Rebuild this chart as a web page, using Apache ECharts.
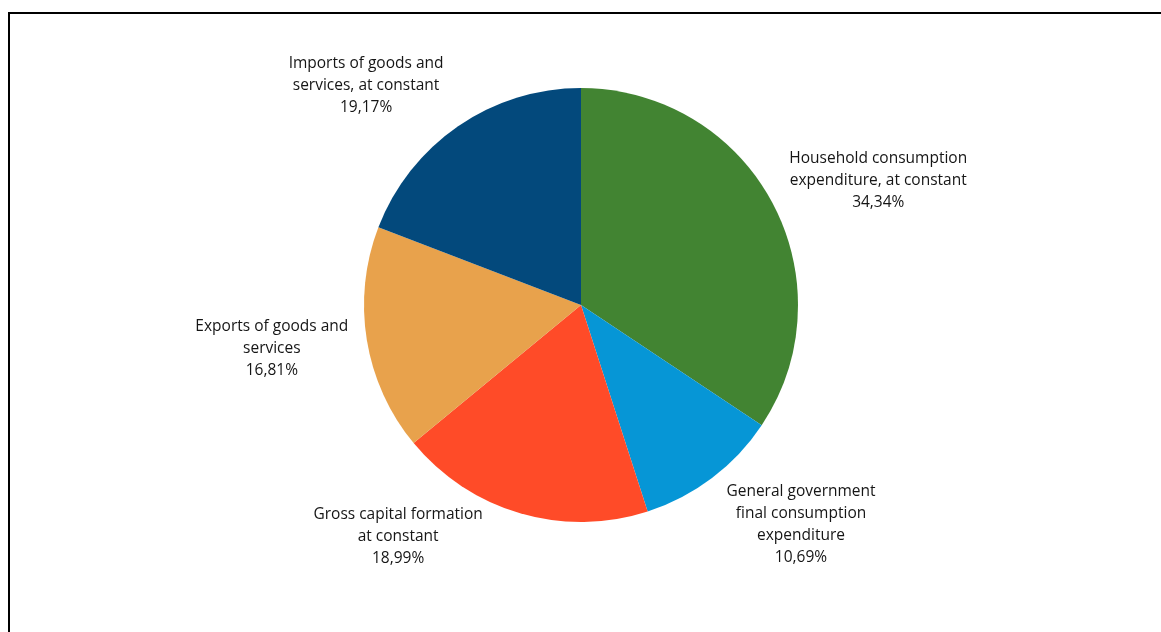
<!DOCTYPE html>
<html>
<head>
<meta charset="utf-8">
<script src="https://cdn.jsdelivr.net/npm/echarts@6/dist/echarts.min.js"></script>
<style>
  html, body { margin: 0; padding: 0; background: #ffffff; }
  #chart { width: 1161px; height: 632px; }
</style>
</head>
<body>
<div id="chart"></div>
<script>
// GDP components, share of total (%)
const categories = [
  'Household consumption\nexpenditure, at constant',
  'General government\nfinal consumption\nexpenditure',
  'Gross capital formation\nat constant',
  'Exports of goods and\nservices',
  'Imports of goods and\nservices, at constant'
];
const shares = [34.34, 10.69, 18.99, 16.81, 19.17];
const sliceColors = ['#428432', '#0696D6', '#FF4B28', '#E8A24C', '#03497C'];

// label centre offsets from the slice's outer mid-point
const labelOffsets = [[106, -22], [89, 47], [-122, 23], [-95, 9], [-92, -41]];

const chart = echarts.init(document.getElementById('chart'), null, { renderer: 'canvas' });

chart.setOption({
  animation: false,
  backgroundColor: '#ffffff',
  graphic: [
    { type: 'line', shape: { x1: 8, y1: 13, x2: 1161, y2: 13 }, style: { stroke: '#000', lineWidth: 2 } },
    { type: 'line', shape: { x1: 9, y1: 12, x2: 9, y2: 632 }, style: { stroke: '#000', lineWidth: 2 } }
  ],
  series: [{
    type: 'pie',
    center: [581, 305],
    radius: 217,
    startAngle: 90,
    clockwise: true,
    avoidLabelOverlap: false,
    silent: true,
    data: categories.map((name, i) => ({
      name: name,
      value: shares[i],
      itemStyle: { color: sliceColors[i] }
    })),
    itemStyle: { borderWidth: 0 },
    label: {
      show: true,
      position: 'outside',
      fontFamily: '"Open Sans", sans-serif',
      fontSize: 15.5,
      lineHeight: 22,
      color: '#151515',
      formatter: p => p.name + '\n' + p.value.toFixed(2).replace('.', ',') + '%'
    },
    labelLine: { show: false, length: 0, length2: 0 },
    labelLayout: params => {
      const off = labelOffsets[params.dataIndex];
      const side = params.align === 'right' ? -1 : 1;
      return {
        align: 'center',
        verticalAlign: 'middle',
        dx: off[0] - side * 5,
        dy: off[1]
      };
    }
  }]
});
</script>
</body>
</html>
